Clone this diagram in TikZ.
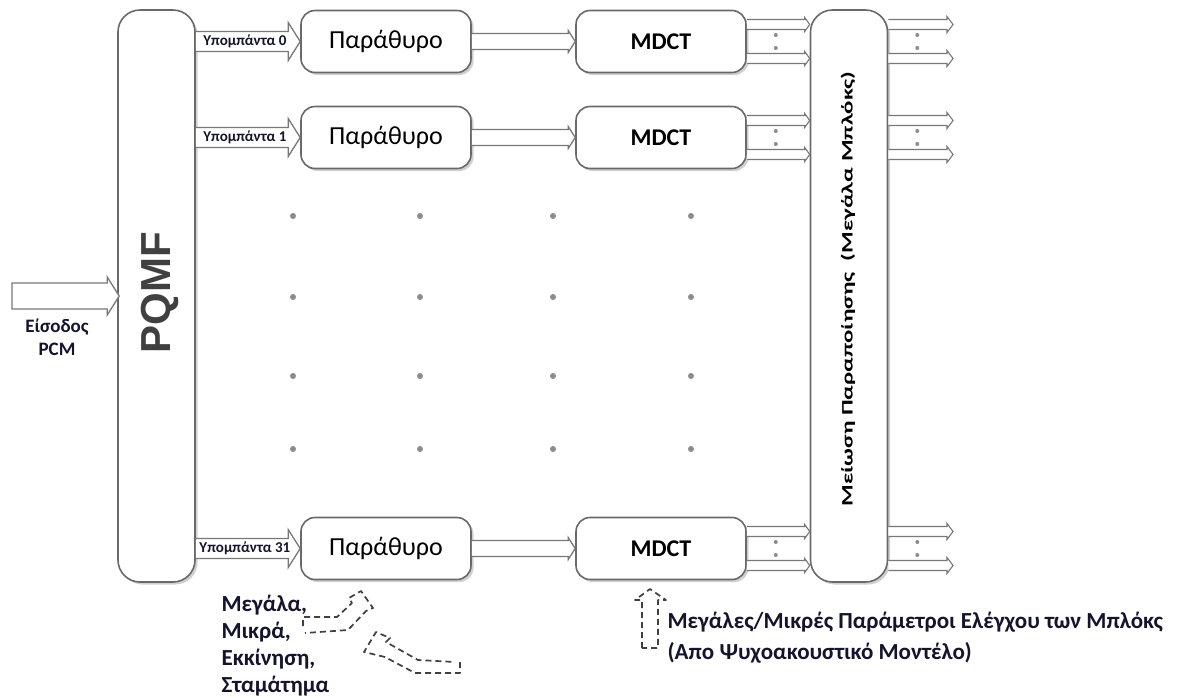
\documentclass[tikz,border=0pt]{standalone}
\usepackage{fontspec}
\setmainfont{Carlito}
\newfontfamily\arialfont{Liberation Sans}
\usetikzlibrary{calc,shadows}

\definecolor{boxline}{RGB}{105,105,105}
\definecolor{arrowline}{RGB}{120,120,120}
\definecolor{dotgray}{RGB}{140,140,140}
\definecolor{navytext}{RGB}{20,20,45}

% hollow block arrow from #2 to #3 (horizontal, at the height of #2)
% #4 half body width, #5 half head width, #6 head length
\newcommand\harrow[6][]{%
  \filldraw[hollow,#1] let \p1=(#2), \p2=(#3) in
    (\x1,\y1+#4pt) -- (\x2-#6pt,\y1+#4pt) -- (\x2-#6pt,\y1+#5pt) -- (\x2,\y1)
    -- (\x2-#6pt,\y1-#5pt) -- (\x2-#6pt,\y1-#4pt) -- (\x1,\y1-#4pt);}

\begin{document}
\begin{tikzpicture}[x=1pt,y=-1pt,
  box/.style={draw=boxline, line width=1.6pt, fill=white, rounded corners=14pt,
    drop shadow={shadow xshift=2.5pt, shadow yshift=-2.5pt, fill=gray!60, opacity=0.6}},
  tallbox/.style={box, rounded corners=22pt, minimum width=77pt, minimum height=572pt},
  procbox/.style={box, minimum width=170pt, minimum height=62pt},
  hollow/.style={draw=arrowline, line width=1.3pt, fill=white, line join=miter},
  dot/.style={fill=dotgray},
  sublabel/.style={font=\bfseries\fontsize{15}{15}\selectfont, text=navytext, inner sep=0pt},
  dasharrow/.style={draw=black!75, line width=1.7pt, dash pattern=on 6pt off 4pt, line join=round},
]
\useasboundingbox[fill=white] (0,0) rectangle (1179,697);

% main blocks
\node[tallbox] (pqmf) at (156.5,296) {};
\node[tallbox] (big) at (849,296) {};
\node[procbox] (w0) at (386,41.5) {\fontsize{26}{26}\selectfont Παράθυρο};
\node[procbox] (w1) at (386,137.5) {\fontsize{26}{26}\selectfont Παράθυρο};
\node[procbox] (w2) at (386,548.5) {\fontsize{26}{26}\selectfont Παράθυρο};
\node[procbox] (m0) at (661,41.5) {\bfseries\fontsize{24}{24}\selectfont MDCT};
\node[procbox] (m1) at (661,137.5) {\bfseries\fontsize{24}{24}\selectfont MDCT};
\node[procbox] (m2) at (661,548.5) {\bfseries\fontsize{24}{24}\selectfont MDCT};

\node[rotate=90, font=\arialfont\bfseries\fontsize{42}{42}\selectfont, text=black!75]
  (pqmflabel) at (160,293) {PQMF};
\node[rotate=90, font=\bfseries\fontsize{16}{16}\selectfont]
  (biglabel) at (848,289) {\scalebox{1.55}[1]{Μείωση Παραποίησης\ \ (Μεγάλα Μπλόκς)}};

% PCM input
\coordinate (in) at (12,296);
\filldraw[hollow] let \p1=(in), \p2=(pqmf.west) in
  (\x1,\y1+13pt) -- (\x2-10pt,\y1+13pt) -- (\x2-10pt,\y1+19pt) -- (\x2+2pt,\y1)
  -- (\x2-10pt,\y1-19pt) -- (\x2-10pt,\y1-13pt) -- (\x1,\y1-13pt) -- cycle;
\node[align=center, font=\bfseries\fontsize{19}{23}\selectfont, text=navytext]
  (inlabel) at (57,337) {Είσοδος\\PCM};

% subbands
\foreach \w/\n in {w0/0, w1/1, w2/31}{
  \harrow{pqmf.east |- \w.west}{\w.west}{10}{19}{12}
  \node[sublabel] at ($(pqmf.east |- \w.west)!0.47!(\w.west)$) {Υπομπάντα \n};
  \harrow{\w.east}{\w.east -| m0.west}{8}{11}{7}
}

% coefficient outputs
\coordinate (out) at (953,0);
\foreach \m in {m0, m1, m2}{
  \foreach \dy in {-17, 17}{
    \harrow[line width=1.1pt]{$(\m.east)+(0,\dy)$}{big.west}{5}{7}{5}
    \harrow[line width=1.1pt]{$(big.east |- \m.east)+(0,\dy)$}{out}{5}{8}{6}
  }
  \foreach \dy in {-6.5, 6.5}{
    \fill[dot] ($(\m.east)+(29,\dy)$) circle (2pt);
    \fill[dot] ($(big.east |- \m.east)+(29,\dy)$) circle (2pt);
  }
}

% continuation dots
\foreach \x in {293, 420, 553, 691}
  \foreach \y in {216, 297, 376, 449}
    \fill[dot] (\x,\y) circle (3pt);

% window type control
\node[anchor=north west, align=left, font=\bfseries\fontsize{23}{27}\selectfont, text=navytext]
  (wintext) at (218,592) {Μεγάλα,\\Μικρά,\\Εκκίνηση,\\Σταμάτημα};
\draw[dasharrow] (303,626) -- (303,617) -- (337,617) -- (352,603) -- (349,598)
  -- (361,591) -- (373,608) -- (366,611) -- (348,630) -- (305,633);
\draw[dasharrow] (460,662) -- (460,673) -- (415,673) -- (385,657) -- (364,652)
  -- (376,632) -- (390,638) -- (386,642) -- (418,660) -- (455,662);

% block size control
\draw[dasharrow] (642,648) -- (642,600) -- (635,600) -- (650,589) -- (666,600)
  -- (658,600) -- (658,648) -- cycle;
\node[anchor=west, align=left, font=\bfseries\fontsize{23}{31}\selectfont, text=navytext]
  (ctltext) at (664,638) {Μεγάλες/Μικρές Παράμετροι Ελέγχου των Μπλόκς\\(Απο Ψυχοακουστικό Μοντέλο)};
\end{tikzpicture}
\end{document}
